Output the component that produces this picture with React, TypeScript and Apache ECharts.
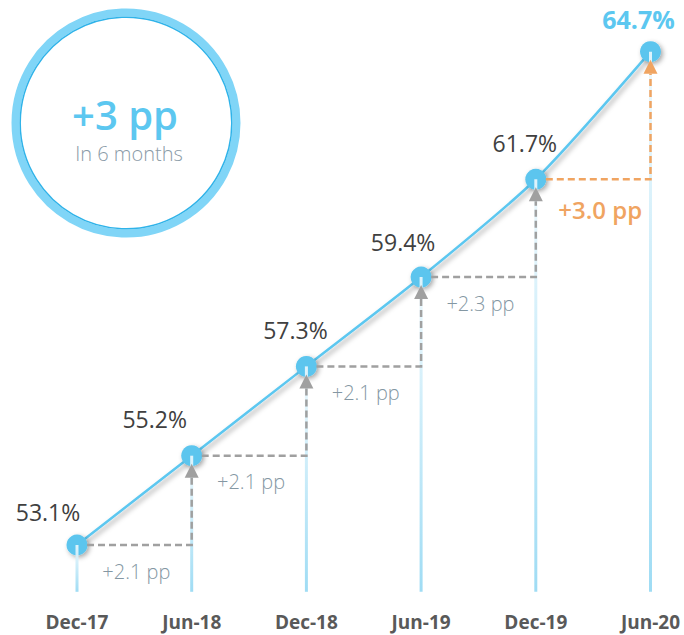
import React, { useEffect, useRef } from "react";
import * as echarts from "echarts";

const categories = ["Dec-17", "Jun-18", "Dec-18", "Jun-19", "Dec-19", "Jun-20"];
const values = [53.1, 55.2, 57.3, 59.4, 61.7, 64.7];
const valueLabels = ["53.1%", "55.2%", "57.3%", "59.4%", "61.7%", "64.7%"];
const deltaLabels = ["+2.1 pp", "+2.1 pp", "+2.1 pp", "+2.3 pp", "+3.0 pp"];
const badgeValue = "+3 pp";
const badgeCaption = "In 6 months";

// label placement (style only)
const labelOffsets: [number, number][] = [
  [-29, -33],
  [-37, -37],
  [-11, -36],
  [-18, -35],
  [-11, -36],
  [-12, -33],
];

const FONT = "'Open Sans', 'Noto Sans', sans-serif";
const BLUE = "#5cc7f0";
const ORANGE = "#f0a461";
const GRAY = "#a0a0a0";

export default function App() {
  const ref = useRef<HTMLDivElement>(null);
  useEffect(() => {
    if (!ref.current) return;
    const chart = echarts.init(ref.current, undefined, { renderer: "svg" });
    const last = values.length - 1;

    const stepData = values.slice(0, last).map((v, i) => [i, v, values[i + 1]]);

    const option: any = {
      animation: false,
      backgroundColor: "#ffffff",
      grid: { left: 77, right: 33.5, top: 38.9, bottom: 43.2 },
      xAxis: {
        type: "category",
        data: categories,
        boundaryGap: false,
        axisLine: { show: false },
        axisTick: { show: false },
        splitLine: { show: false },
        axisLabel: {
          color: "#595959",
          fontWeight: "bold",
          fontSize: 19,
          fontFamily: FONT,
          margin: 21,
        },
      },
      yAxis: {
        type: "value",
        min: 52,
        max: 65,
        show: false,
        splitLine: { show: false },
      },
      graphic: [
        {
          type: "circle",
          shape: { cx: 126, cy: 123, r: 110.5 },
          style: { fill: "#ffffff", stroke: "#80d5f7", lineWidth: 8 },
          z: 1,
        },
        {
          type: "circle",
          shape: { cx: 126, cy: 123, r: 105.8 },
          style: { fill: "none", stroke: "#2fb3e9", lineWidth: 1.5 },
          z: 2,
        },
        {
          type: "text",
          x: 125,
          y: 114,
          style: {
            text: badgeValue,
            fill: BLUE,
            font: `600 40px ${FONT}`,
            lineHeight: 40,
            align: "center",
            verticalAlign: "middle",
          },
          z: 3,
        },
        {
          type: "text",
          x: 129,
          y: 153,
          style: {
            text: badgeCaption,
            fill: "#8a9ba7",
            font: `300 20px ${FONT}`,
            lineHeight: 20,
            align: "center",
            verticalAlign: "middle",
          },
          z: 3,
        },
      ],
      series: [
        {
          type: "line",
          z: 1,
          data: values.map((v, i) => ({
            value: v,
            label: {
              offset: labelOffsets[i],
              ...(i === last
                ? { color: BLUE, fontWeight: "bold", fontSize: 25 }
                : {}),
            },
          })),
          smooth: 0.25,
          symbol: "circle",
          symbolSize: 21,
          lineStyle: {
            color: BLUE,
            width: 2.5,
            shadowColor: "rgba(0,0,0,0.35)",
            shadowBlur: 5,
            shadowOffsetX: 2,
            shadowOffsetY: 3,
          },
          itemStyle: {
            color: "#5bc5ee",
            shadowColor: "rgba(0,0,0,0.35)",
            shadowBlur: 5,
            shadowOffsetX: 2,
            shadowOffsetY: 2,
          },
          label: {
            show: true,
            position: "inside",
            color: "#404040",
            fontSize: 23,
            fontFamily: FONT,
            formatter: (p: any) => valueLabels[p.dataIndex],
          },
        },
        {
          type: "bar",
          z: 2,
          data: values,
          barWidth: 3,
          silent: true,
          itemStyle: {
            color: new echarts.graphic.LinearGradient(0, 0, 0, 1, [
              { offset: 0, color: "rgba(236,248,253,0.9)" },
              { offset: 1, color: "#9fdcf4" },
            ]),
          },
        },
        {
          type: "custom",
          z: 3,
          data: stepData,
          renderItem: (params: any, api: any) => {
            const i = api.value(0);
            const p0 = api.coord([i, api.value(1)]);
            const p1 = api.coord([i + 1, api.value(2)]);
            const hi = i === last - 1;
            const color = hi ? ORANGE : GRAY;
            const tipY = p1[1] + 8;
            const baseY = p1[1] + 22;
            return {
              type: "group",
              children: [
                {
                  type: "polyline",
                  shape: { points: [[p0[0] + 10, p0[1]], [p1[0], p0[1]], [p1[0], baseY]] },
                  style: { stroke: color, lineWidth: 2.5, lineDash: [7, 4], fill: "none" },
                },
                {
                  type: "polygon",
                  shape: { points: [[p1[0], tipY], [p1[0] - 7, baseY], [p1[0] + 7, baseY]] },
                  style: { fill: color },
                },
                {
                  type: "text",
                  x: (p0[0] + p1[0]) / 2 + (hi ? 7 : 2),
                  y: p0[1] + (hi ? 30 : 26),
                  style: {
                    text: deltaLabels[i],
                    fill: hi ? ORANGE : "#8497a3",
                    font: hi ? `600 24px ${FONT}` : `300 20px ${FONT}`,
                    align: "center",
                    verticalAlign: "middle",
                  },
                },
              ],
            };
          },
        },
      ],
    };
    chart.setOption(option);
    return () => chart.dispose();
  }, []);
  return (
    <div
      ref={ref}
      style={{ position: "fixed", left: 0, top: 0, width: 684, height: 635, background: "#fff" }}
    />
  );
}
